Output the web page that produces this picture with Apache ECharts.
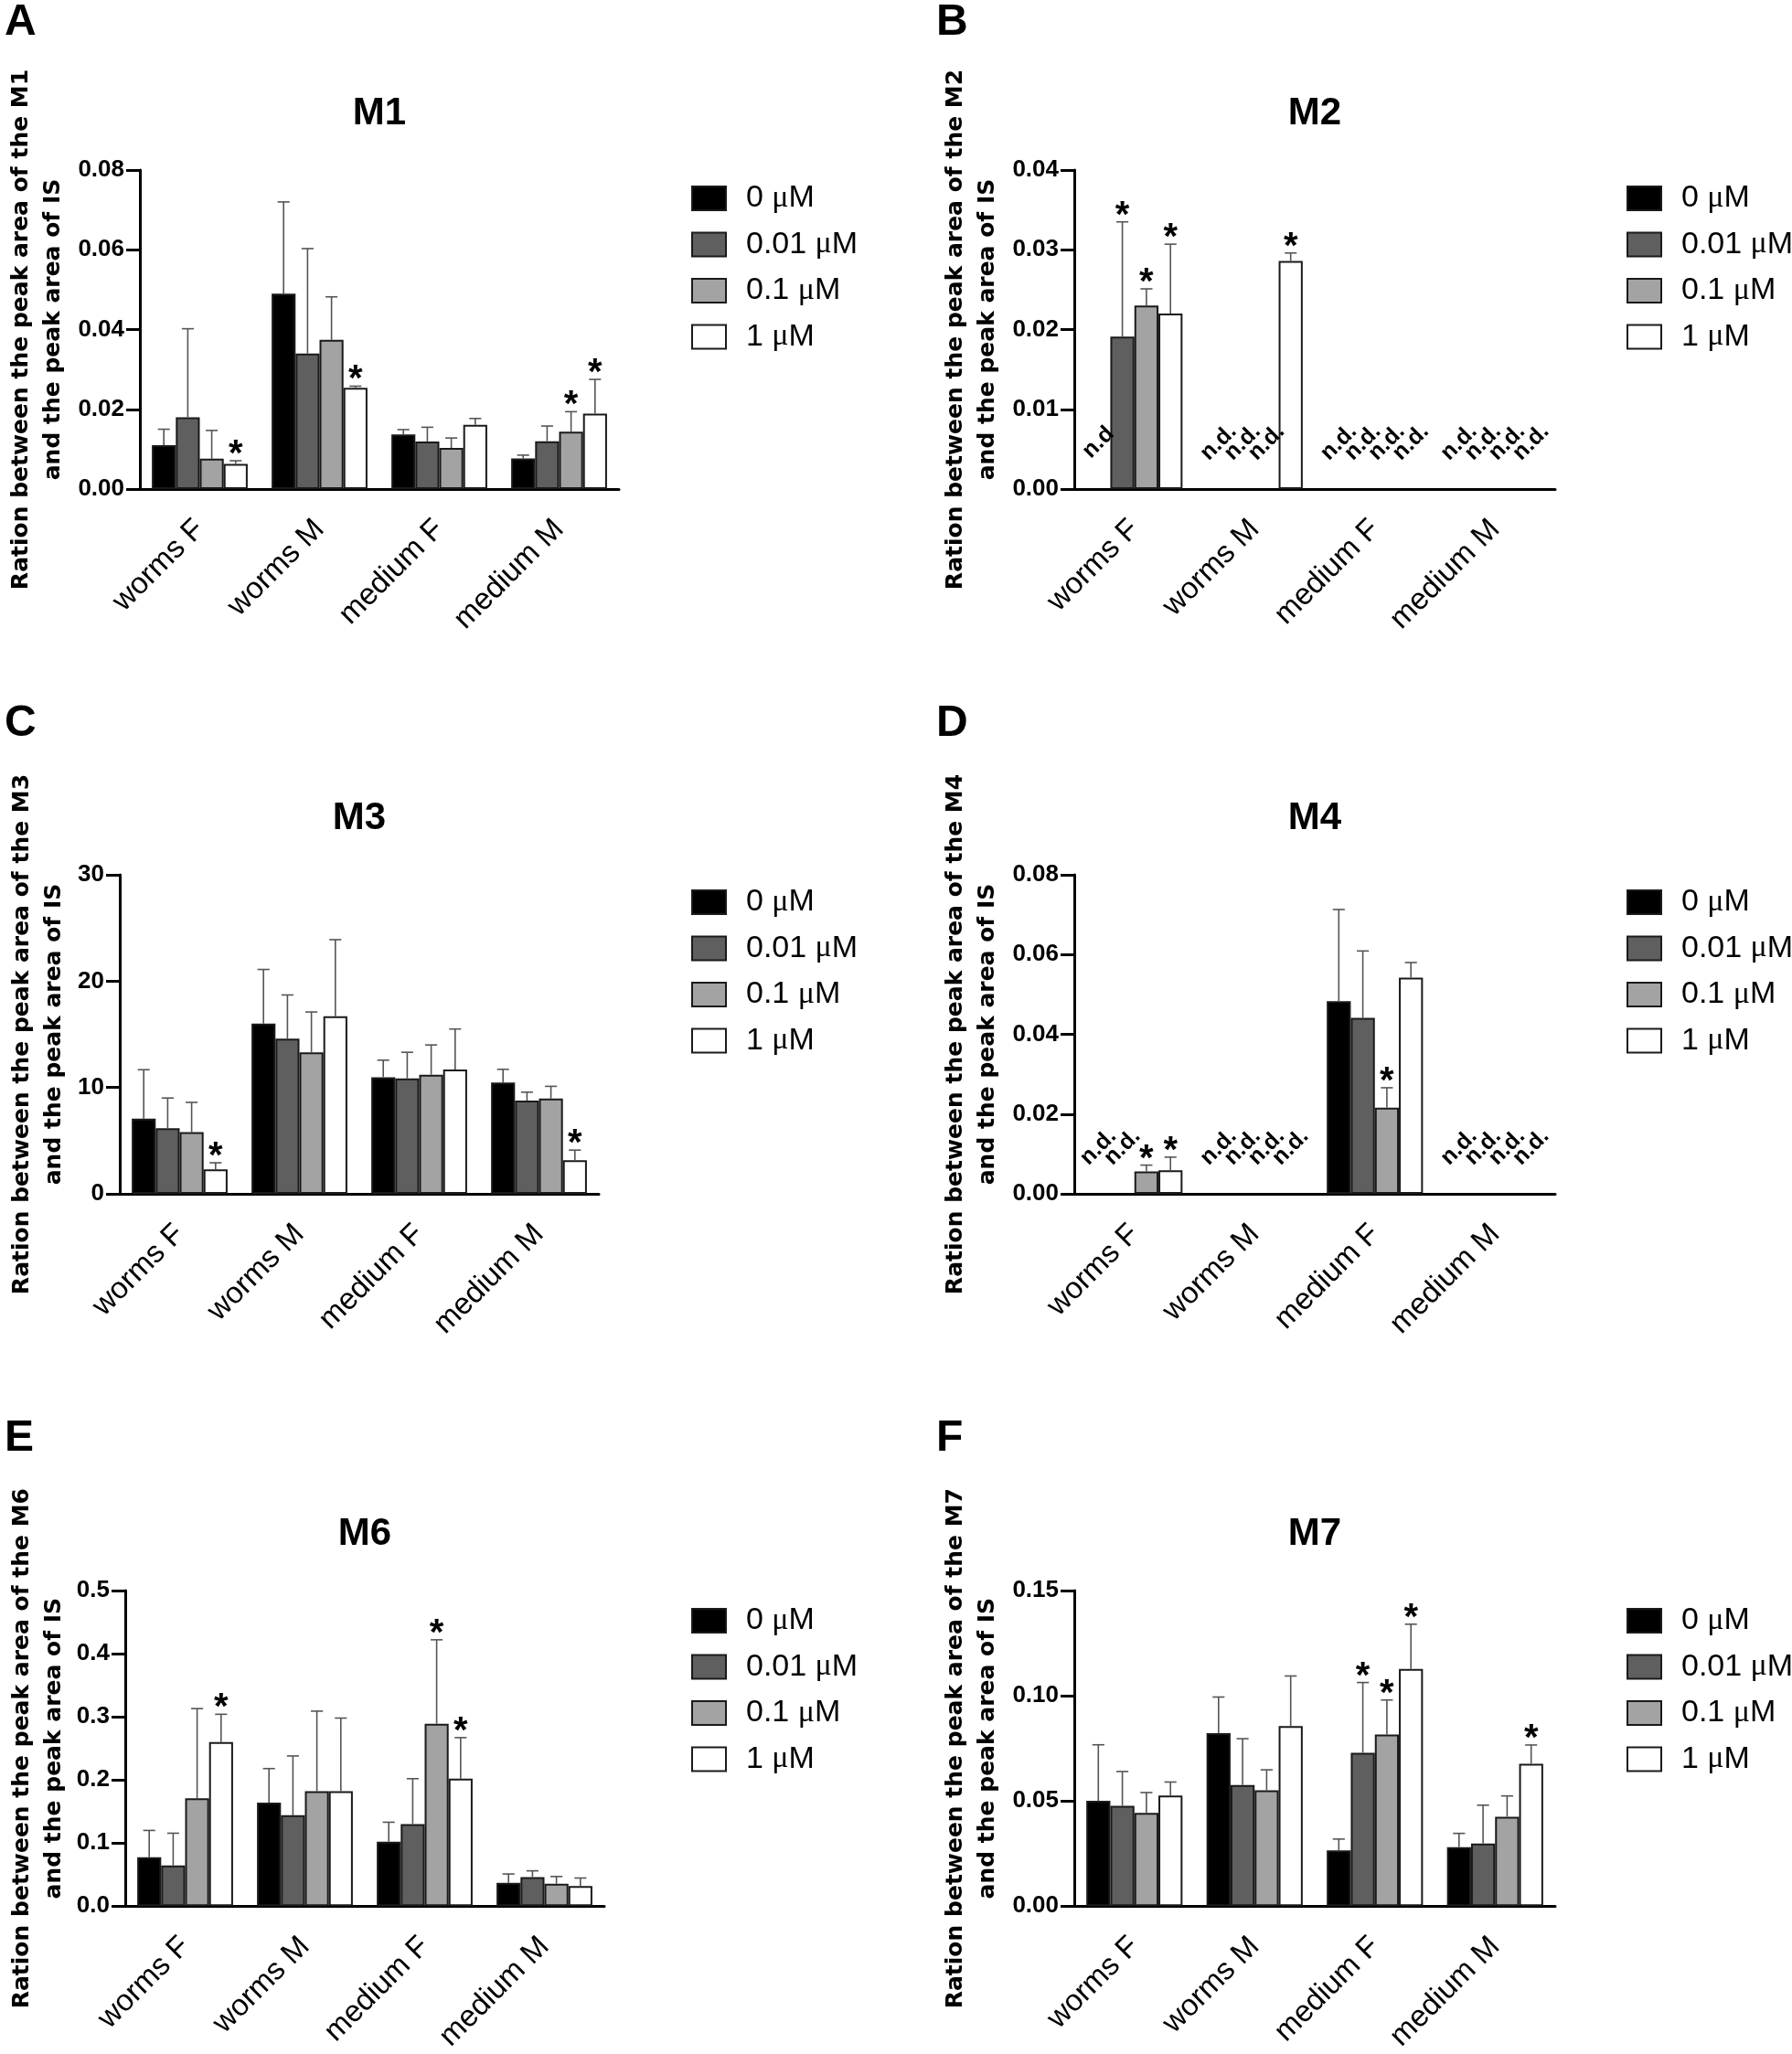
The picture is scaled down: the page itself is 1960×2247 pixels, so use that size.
<!DOCTYPE html>
<html><head><meta charset="utf-8">
<script src="https://cdn.jsdelivr.net/npm/echarts@6/dist/echarts.min.js"></script>
<style>html,body{margin:0;padding:0;background:#fff}#c{width:1960px;height:2247px}</style>
</head><body><div id="c"></div>
<script>
// ---------- DATA ----------
const categories = ['worms F', 'worms M', 'medium F', 'medium M'];
const doses = ['0 μM', '0.01 μM', '0.1 μM', '1 μM'];

// rows = dose (0, 0.01, 0.1, 1 µM); columns = categories
const M1_mean = [[0.0110, 0.0490, 0.0137, 0.0077], [0.0180, 0.0340, 0.0119, 0.0120], [0.0076, 0.0374, 0.0103, 0.0144], [0.0063, 0.0254, 0.0161, 0.0189]];
const M1_sd = [[0.0040, 0.0230, 0.0012, 0.0008], [0.0222, 0.0263, 0.0036, 0.0038], [0.0071, 0.0108, 0.0025, 0.0050], [0.0008, 0.0004, 0.0016, 0.0086]];
const M1_sig = [[0, 3], [1, 3], [3, 2], [3, 3]];
const M1_nd = [];
const M1_ticks = [0, 0.02, 0.04, 0.06, 0.08];

const M2_mean = [[null, null, null, null], [0.0191, null, null, null], [0.0230, null, null, null], [0.0220, 0.0286, null, null]];
const M2_sd = [[0, 0, 0, 0], [0.0144, 0, 0, 0], [0.0021, 0, 0, 0], [0.0087, 0.0010, 0, 0]];
const M2_sig = [[0, 1], [0, 2], [0, 3], [1, 3]];
const M2_nd = [[0, 0, 'n.d'], [1, 0, 'n.d.'], [1, 1, 'n.d.'], [1, 2, 'n.d.'], [2, 0, 'n.d.'], [2, 1, 'n.d.'], [2, 2, 'n.d.'], [2, 3, 'n.d.'], [3, 0, 'n.d.'], [3, 1, 'n.d.'], [3, 2, 'n.d.'], [3, 3, 'n.d.']];
const M2_ticks = [0, 0.01, 0.02, 0.03, 0.04];

const M3_mean = [[7.07, 16.0, 10.97, 10.46], [6.16, 14.6, 10.86, 8.76], [5.8, 13.3, 11.2, 8.96], [2.29, 16.7, 11.7, 3.16]];
const M3_sd = [[4.6, 5.1, 1.6, 1.25], [2.85, 4.1, 2.45, 0.8], [2.8, 3.8, 2.8, 1.15], [0.63, 7.2, 3.8, 0.95]];
const M3_sig = [[0, 3], [3, 3]];
const M3_nd = [];
const M3_ticks = [0, 10, 20, 30];

const M4_mean = [[null, null, 0.0483, null], [null, null, 0.0441, null], [0.0056, null, 0.0216, null], [0.0059, null, 0.0542, null]];
const M4_sd = [[0, 0, 0.0230, 0], [0, 0, 0.0168, 0], [0.0016, 0, 0.0050, 0], [0.0033, 0, 0.0038, 0]];
const M4_sig = [[0, 2], [0, 3], [2, 2]];
const M4_nd = [[0, 0, 'n.d.'], [0, 1, 'n.d.'], [1, 0, 'n.d.'], [1, 1, 'n.d.'], [1, 2, 'n.d.'], [1, 3, 'n.d.'], [3, 0, 'n.d.'], [3, 1, 'n.d.'], [3, 2, 'n.d.'], [3, 3, 'n.d.']];
const M4_ticks = [0, 0.02, 0.04, 0.06, 0.08];

const M6_mean = [[0.0775, 0.164, 0.102, 0.037], [0.0646, 0.144, 0.130, 0.046], [0.171, 0.182, 0.289, 0.0355], [0.260, 0.182, 0.202, 0.032]];
const M6_sd = [[0.0425, 0.054, 0.031, 0.014], [0.051, 0.094, 0.072, 0.010], [0.142, 0.127, 0.133, 0.0115], [0.044, 0.116, 0.065, 0.0126]];
const M6_sig = [[0, 3], [2, 2], [2, 3]];
const M6_nd = [];
const M6_ticks = [0, 0.1, 0.2, 0.3, 0.4, 0.5];

const M7_mean = [[0.0501, 0.0822, 0.0265, 0.0280], [0.0477, 0.0576, 0.0729, 0.0298], [0.0443, 0.0551, 0.0816, 0.0425], [0.0526, 0.0856, 0.1127, 0.0677]];
const M7_sd = [[0.0266, 0.0172, 0.0054, 0.0066], [0.0163, 0.0220, 0.0334, 0.0182], [0.0097, 0.0097, 0.0164, 0.0099], [0.0064, 0.0238, 0.0213, 0.0089]];
const M7_sig = [[2, 1], [2, 2], [2, 3], [3, 3]];
const M7_nd = [];
const M7_ticks = [0, 0.05, 0.10, 0.15];

// ---------- STYLE / LAYOUT ----------
const barColors = ['#000000', '#5f5f5f', '#a3a3a3', '#ffffff'];
const CAT_GAP = 0.2;
const SANS = "'Liberation Sans', Arial, sans-serif";

const panels = [
  {letter: 'A', title: 'M1', mean: M1_mean, sd: M1_sd, sig: M1_sig, nd: M1_nd, ticks: M1_ticks, dec: 2,
   grid: {left: 153, top: 186, width: 524, height: 349}, nameGap: 77, lx: 5, ly: 25, legLeft: 756, legTop: 200},
  {letter: 'B', title: 'M2', mean: M2_mean, sd: M2_sd, sig: M2_sig, nd: M2_nd, ticks: M2_ticks, dec: 2,
   grid: {left: 1175, top: 186, width: 526, height: 349}, nameGap: 77.5, lx: 1024, ly: 25, legLeft: 1779, legTop: 200},
  {letter: 'C', title: 'M3', mean: M3_mean, sd: M3_sd, sig: M3_sig, nd: M3_nd, ticks: M3_ticks, dec: 0,
   grid: {left: 131, top: 957, width: 524, height: 349}, nameGap: 54.5, lx: 5, ly: 792, legLeft: 756, legTop: 970},
  {letter: 'D', title: 'M4', mean: M4_mean, sd: M4_sd, sig: M4_sig, nd: M4_nd, ticks: M4_ticks, dec: 2,
   grid: {left: 1175, top: 957, width: 526, height: 349}, nameGap: 77.5, lx: 1024, ly: 792, legLeft: 1779, legTop: 970},
  {letter: 'E', title: 'M6', mean: M6_mean, sd: M6_sd, sig: M6_sig, nd: M6_nd, ticks: M6_ticks, dec: 1,
   grid: {left: 137, top: 1740, width: 524, height: 349}, nameGap: 60, lx: 5, ly: 1574, legLeft: 756, legTop: 1756},
  {letter: 'F', title: 'M7', mean: M7_mean, sd: M7_sd, sig: M7_sig, nd: M7_nd, ticks: M7_ticks, dec: 2,
   grid: {left: 1175, top: 1740, width: 526, height: 349}, nameGap: 77.5, lx: 1024, ly: 1574, legLeft: 1779, legTop: 1756}
];

function barX(api, cat, dose, val) {
  const p = api.coord([cat, val]);
  const band = api.size([1, 0])[0];
  const gw = band * (1 - CAT_GAP);
  const bw = gw / 4;
  return {x: p[0] - gw / 2 + (dose + 0.5) * bw, y: p[1], bw: bw};
}

const grids = [], xAxes = [], yAxes = [], series = [], legends = [], graphics = [];
panels.forEach((p, i) => {
  grids.push(Object.assign({}, p.grid));
  xAxes.push({
    type: 'category', gridIndex: i, data: categories,
    axisLine: {lineStyle: {color: '#000', width: 3}},
    axisTick: {alignWithLabel: true, length: 17, lineStyle: {color: '#000', width: 3}},
    axisLabel: {rotate: 45, fontSize: 33, fontFamily: SANS, color: '#000', margin: 39, interval: 0},
    splitLine: {show: false}
  });
  const t = p.ticks;
  yAxes.push({
    type: 'value', gridIndex: i, min: t[0], max: t[t.length - 1], interval: t[1] - t[0],
    name: 'Ration between the peak area of the ' + p.title + '\nand the peak area of IS',
    nameLocation: 'middle', nameGap: p.nameGap, nameRotate: 90,
    nameTextStyle: {fontFamily: "'DejaVu Sans', sans-serif", fontWeight: 'bold', fontSize: 25, lineHeight: 35, color: '#000', align: 'center'},
    axisLine: {show: true, lineStyle: {color: '#000', width: 3}},
    axisTick: {show: true, length: 15, lineStyle: {color: '#000', width: 3}},
    axisLabel: {fontSize: 26, fontWeight: 'bold', fontFamily: SANS, color: '#000', margin: 17,
      formatter: v => v.toFixed(p.dec)},
    splitLine: {show: false}
  });
  doses.forEach((d, k) => {
    series.push({
      type: 'bar', name: d, xAxisIndex: i, yAxisIndex: i,
      data: categories.map((c, ci) => p.mean[k][ci]),
      barGap: '0%', barCategoryGap: (CAT_GAP * 100) + '%',
      itemStyle: {color: barColors[k], borderColor: '#1a1a1a', borderWidth: 2},
      emphasis: {disabled: true}, z: 2
    });
  });
  // error bars
  const errData = [];
  p.mean.forEach((row, k) => row.forEach((v, c) => { if (v != null) errData.push([c, k, v, p.sd[k][c]]); }));
  series.push({
    type: 'custom', name: 'err' + i, xAxisIndex: i, yAxisIndex: i, data: errData, z: 3, silent: true,
    encode: {x: 0, y: 2},
    renderItem: (params, api) => {
      const c = api.value(0), k = api.value(1), v = api.value(2), s = api.value(3);
      const b = barX(api, c, k, v);
      const top = api.coord([c, v + s])[1];
      const cap = b.bw * 0.5;
      const st = {stroke: '#555', lineWidth: 1.6};
      return {type: 'group', children: [
        {type: 'line', shape: {x1: b.x, y1: b.y, x2: b.x, y2: top}, style: st},
        {type: 'line', shape: {x1: b.x - cap / 2, y1: top, x2: b.x + cap / 2, y2: top}, style: st}
      ]};
    }
  });
  // significance stars
  const sigData = p.sig.map(([c, k]) => [c, k, p.mean[k][c] + p.sd[k][c]]);
  series.push({
    type: 'custom', name: 'sig' + i, xAxisIndex: i, yAxisIndex: i, data: sigData, z: 4, silent: true,
    encode: {x: 0, y: 2},
    renderItem: (params, api) => {
      const b = barX(api, api.value(0), api.value(1), api.value(2));
      return {type: 'text', x: b.x, y: b.y - 6, style: {text: '*', fontSize: 40, fontWeight: 'bold', fontFamily: SANS, fill: '#000', align: 'center', verticalAlign: 'middle'}};
    }
  });
  // n.d. labels
  if (p.nd.length) {
    series.push({
      type: 'custom', name: 'nd' + i, xAxisIndex: i, yAxisIndex: i, data: p.nd.map(r => [r[0], r[1], 0]), z: 4, silent: true,
      encode: {x: 0, y: 2},
      renderItem: (params, api) => {
        const idx = params.dataIndex;
        const b = barX(api, api.value(0), api.value(1), 0);
        return {type: 'text', x: b.x, y: b.y - 51, rotation: Math.PI / 4,
          style: {text: p.nd[idx][2], fontSize: 25, fontWeight: 'bold', fontFamily: SANS, fill: '#000', align: 'center', verticalAlign: 'middle'}};
      }
    });
  }
  legends.push({
    data: doses, orient: 'vertical', left: p.legLeft, top: p.legTop, padding: 0,
    icon: 'rect', itemWidth: 37, itemHeight: 26, itemGap: 16.5, selectedMode: false,
    itemStyle: {borderColor: '#1a1a1a', borderWidth: 2},
    textStyle: {fontFamily: SANS, fontSize: 34, color: '#000', padding: [0, 0, 0, 17],
      rich: {mu: {fontFamily: "'Liberation Serif', 'DejaVu Serif', serif", fontSize: 34}}},
    formatter: n => n.replace('μ', '{mu|μ}')
  });
  graphics.push({type: 'text', x: p.lx, y: p.ly, style: {text: p.letter, fontSize: 48, fontWeight: 'bold', fontFamily: SANS, fill: '#000', align: 'left', verticalAlign: 'middle'}});
  graphics.push({type: 'text', x: p.grid.left + p.grid.width / 2, y: p.grid.top - 62, style: {text: p.title, fontSize: 42, fontWeight: 'bold', fontFamily: SANS, fill: '#000', align: 'center', verticalAlign: 'middle'}});
});

const chart = echarts.init(document.getElementById('c'), null, {renderer: 'canvas', width: 1960, height: 2247});
chart.setOption({
  animation: false,
  backgroundColor: '#fff',
  grid: grids, xAxis: xAxes, yAxis: yAxes, series: series, legend: legends, graphic: graphics
});
</script></body></html>
